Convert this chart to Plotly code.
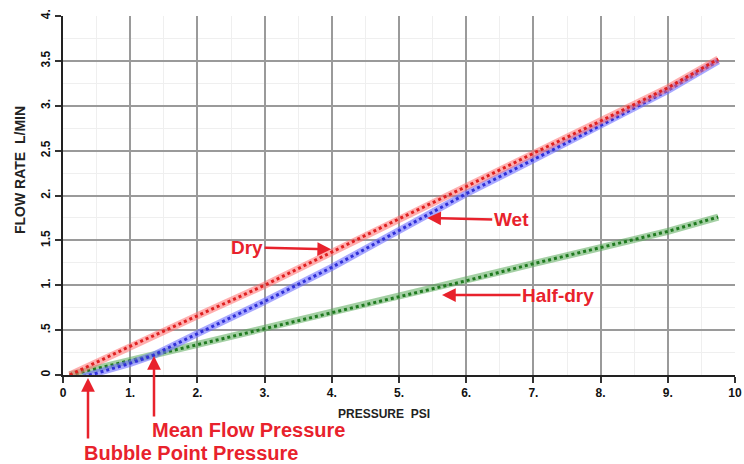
import plotly.graph_objects as go

# Data
dry_x = [0.1, 1, 2, 3, 4, 5, 6, 7, 8, 9, 9.75]
dry_y = [0.0, 0.32, 0.66, 1.0, 1.37, 1.74, 2.1, 2.47, 2.83, 3.2, 3.52]

wet_x = [0.3, 0.5, 1, 1.35, 1.5, 2, 3, 4, 5, 6, 7, 8, 9, 9.75]
wet_y = [-0.02, 0.02, 0.13, 0.22, 0.28, 0.46, 0.82, 1.2, 1.61, 2.02, 2.4, 2.78, 3.17, 3.5]

half_x = [0.1, 1, 2, 3, 4, 5, 6, 7, 8, 9, 9.75]
half_y = [0.0, 0.16, 0.34, 0.51, 0.69, 0.87, 1.05, 1.24, 1.42, 1.6, 1.76]

x_ticks = [0, 1, 2, 3, 4, 5, 6, 7, 8, 9, 10]
x_labels = ["0", "1.", "2.", "3.", "4.", "5.", "6.", "7.", "8.", "9.", "10"]
y_ticks = [0, 0.5, 1, 1.5, 2, 2.5, 3, 3.5, 4]
y_labels = ["0", ".5", "1.", "1.5", "2.", "2.5", "3.", "3.5", "4."]

RED = "#e8222c"
FAM = "Liberation Sans, Arial"

# plot-area geometry in pixels (used only to place text in paper coordinates)
L, R, T, B = 63, 735, 16, 375
PW, PH = R - L, B - T

def px(xp):
    return (xp - L) / PW

def py(yp):
    return (B - yp) / PH

fig = go.Figure()

def add_series(x, y, light, dark):
    fig.add_trace(go.Scatter(x=x, y=y, mode="lines",
                             line=dict(color=light, width=7), hoverinfo="skip"))
    fig.add_trace(go.Scatter(x=x, y=y, mode="lines",
                             line=dict(color=dark, width=3, dash="dot"), hoverinfo="skip"))

add_series(half_x, half_y, "rgba(90,170,90,0.55)", "#1f7a1f")
add_series(wet_x, wet_y, "rgba(110,110,255,0.6)", "#3030d8")
add_series(dry_x, dry_y, "rgba(255,110,110,0.55)", "#e02020")

font_ann = dict(family=FAM, size=19, color=RED)
font_bottom = dict(family=FAM, size=20, color=RED)

annotations = [
    dict(x=3.99, y=1.40, ax=-84, ay=-2, text="<b>Dry</b>"),
    dict(x=5.42, y=1.75, ax=84, ay=2, text="<b>Wet</b>"),
    dict(x=5.64, y=0.89, ax=116, ay=0, text="<b>Half-dry</b>"),
]
for a in annotations:
    fig.add_annotation(x=a["x"], y=a["y"], ax=a["ax"], ay=a["ay"], text=a["text"],
                       xref="x", yref="y", showarrow=True, arrowhead=2, arrowsize=1.1,
                       arrowwidth=2.5, arrowcolor=RED, font=font_ann, standoff=0)

# vertical arrows (paper coords so they are not hidden outside the axis range)
fig.add_annotation(x=px(154), y=py(356), ax=0, ay=62, xref="paper", yref="paper",
                   text="", showarrow=True, arrowhead=2,
                   arrowsize=1.1, arrowwidth=2.5, arrowcolor=RED)
fig.add_annotation(x=px(88), y=py(378), ax=0, ay=62, xref="paper", yref="paper",
                   text="", showarrow=True, arrowhead=2,
                   arrowsize=1.1, arrowwidth=2.5, arrowcolor=RED)
fig.add_annotation(x=px(248), y=py(430), xref="paper", yref="paper",
                   xanchor="center", yanchor="middle",
                   text="<b>Mean Flow Pressure</b>", showarrow=False, font=font_bottom)
fig.add_annotation(x=px(191), y=py(453), xref="paper", yref="paper",
                   xanchor="center", yanchor="middle",
                   text="<b>Bubble Point Pressure</b>", showarrow=False, font=font_bottom)

# axis titles
fig.add_annotation(x=px(384), y=py(414), xref="paper", yref="paper",
                   xanchor="center", yanchor="middle",
                   text="<b>PRESSURE  PSI</b>", showarrow=False,
                   font=dict(family=FAM, size=12, color="#222"))
fig.add_annotation(x=px(20), y=py(170), xref="paper", yref="paper",
                   xanchor="center", yanchor="middle",
                   text="<b>FLOW RATE  L/MIN</b>", textangle=-90, showarrow=False,
                   font=dict(family=FAM, size=14, color="#222"))

tickfont = dict(family=FAM, size=12, color="#111", weight="bold")
fig.update_xaxes(range=[0, 10], tickvals=x_ticks, ticktext=x_labels, ticks="outside",
                 ticklen=6, tickcolor="#333", tickwidth=1.5, ticklabeloverflow="allow",
                 automargin=False,
                 showgrid=True, gridcolor="#9a9a9a", gridwidth=1.5,
                 showline=True, linecolor="#222", linewidth=2,
                 minor=dict(showgrid=True, gridcolor="#efefef", gridwidth=1, dtick=0.5),
                 tickfont=tickfont, zeroline=False)
fig.update_yaxes(range=[0, 4], tickvals=y_ticks, ticktext=y_labels, ticks="outside",
                 ticklen=6, tickcolor="#333", tickwidth=1.5, tickangle=-90,
                 ticklabeloverflow="allow", automargin=False,
                 showgrid=True, gridcolor="#9a9a9a", gridwidth=1.5,
                 showline=True, linecolor="#222", linewidth=2,
                 minor=dict(showgrid=True, gridcolor="#efefef", gridwidth=1, dtick=0.25),
                 tickfont=tickfont, zeroline=False)

fig.update_layout(width=744, height=464, margin=dict(l=L, r=744 - R, t=T, b=464 - B),
                  paper_bgcolor="white", plot_bgcolor="white", showlegend=False)

fig.write_html("out.html")
